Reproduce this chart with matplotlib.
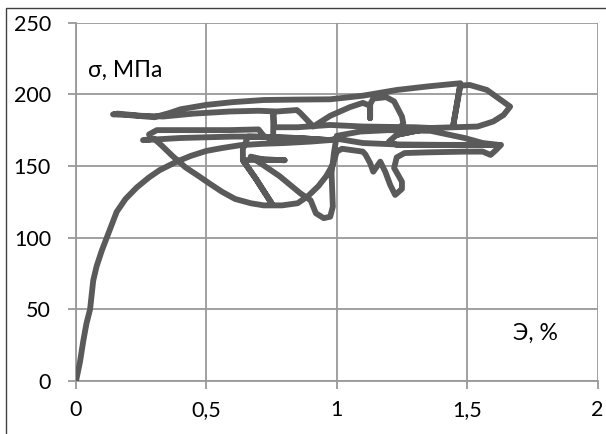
import matplotlib
matplotlib.use("Agg")
import matplotlib.pyplot as plt
from matplotlib.patches import Rectangle

# strain (%) and stress (MPa), in drawing order
strain = [
    # loading
    0, 0.015, 0.028, 0.04, 0.054, 0.066, 0.079, 0.099, 0.118, 0.135, 0.156, 0.19,
    0.233, 0.28, 0.32, 0.386, 0.44, 0.5, 0.56, 0.63, 0.72, 0.8, 0.9, 0.97, 1.0,
    # lower right loop
    1.1, 1.23, 1.4, 1.51, 1.63, 1.61, 1.59, 1.56, 1.49, 1.35, 1.26,
    # dip
    1.23, 1.22, 1.25, 1.25, 1.224, 1.205, 1.186, 1.167, 1.14, 1.128, 1.11, 1.1, 1.02,
    # sag loop
    1.0, 0.985, 0.96, 0.93, 0.89, 0.85, 0.79, 0.72, 0.67, 0.61, 0.56, 0.51, 0.47,
    0.42, 0.37, 0.33, 0.3,
    # left stub and line at 170
    0.257, 0.4, 0.6, 0.69, 0.85, 0.975, 0.85, 0.66, 0.64,
    # diagonals and deep loop
    0.64, 0.69, 0.75, 0.69, 0.64, 0.72, 0.8, 0.72, 0.67, 0.78, 0.86, 0.9, 0.92,
    0.95, 0.975, 0.985, 0.98, 0.99, 1.0,
    # line at 175 to the right
    1.09, 1.2, 1.36, 1.49, 1.56, 1.62,
    1.55, 1.4, 1.23, 1.2,
    # hump
    1.23, 1.255, 1.25, 1.22, 1.19, 1.14, 1.128, 1.128, 1.128, 1.1, 1.05, 0.975, 0.91,
    # box and line at 188
    0.86, 0.847, 0.77, 0.7, 0.59, 0.45, 0.335, 0.25, 0.16, 0.142, 0.2, 0.3,
    # top line up to the peak
    0.36, 0.4, 0.5, 0.6, 0.72, 0.85, 0.975, 1.1, 1.23, 1.35, 1.474,
    1.447, 1.474,
    # right D loop
    1.51, 1.576, 1.63, 1.665, 1.64, 1.6, 1.54, 1.45,
    # line at 177 to the left
    1.36, 1.23, 1.36, 1.3, 1.1, 0.975, 0.85, 0.76, 0.757, 0.756,
    # line at 175 to the left
    0.72, 0.7, 0.59, 0.45, 0.31, 0.28,
]
stress = [
    0, 13, 28, 40, 50, 70, 80, 91, 100, 108, 118, 127,
    135, 142, 147, 153, 157, 160.5, 162.5, 164.5, 165.5, 166, 167, 168, 169,
    166, 165, 164.7, 164.7, 164.7, 161, 157.7, 160, 160, 159.5, 159,
    156, 148.6, 139, 134, 129.8, 136.8, 146, 153, 146, 152, 158, 160, 162,
    160, 151, 143, 136, 129, 124, 122.5, 122.5, 124, 127, 132, 138, 143,
    149, 157, 164, 169,
    168, 169.5, 170.5, 170.5, 169.5, 168, 169.5, 170.5, 162,
    154, 141, 124, 141, 154, 154.5, 154, 154.5, 156.5, 143, 131, 126, 117,
    113.6, 114.6, 121.6, 145, 160, 171,
    174, 175, 174.5, 169.5, 166, 164.7,
    164.5, 164.7, 164.7, 167,
    171.7, 180, 184.5, 195, 198, 197, 193, 183.3, 192, 194, 191, 185, 177.5,
    187, 189, 188, 188.5, 188, 186.5, 184.5, 185, 186.5, 186, 185.5, 184,
    187, 189.5, 192.6, 194.5, 196, 196.3, 196.5, 199, 203, 205.5, 207.7,
    178.6, 206,
    206.5, 203, 196, 191.4, 185.6, 181, 177.5, 177,
    176.5, 171.7, 176.5, 177, 177.5, 178.6, 177, 177, 186, 168,
    171, 175.5, 175, 175, 175, 172,
]

x_ticks = [0, 0.5, 1, 1.5, 2]
x_tick_labels = ["0", "0,5", "1", "1,5", "2"]
y_ticks = [0, 50, 100, 150, 200, 250]

plt.rcParams["font.family"] = ["Lato", "DejaVu Sans"]

fig = plt.figure(figsize=(6.06, 4.34), dpi=100)
ax = fig.add_axes([76 / 606, 1 - 381 / 434, (597.5 - 76) / 606, (381 - 22.6) / 434])

grid_color = "#999999"

ax.plot(strain, stress, color="#5a5a5a", linewidth=4.2,
        solid_joinstyle="round", solid_capstyle="round", zorder=3)

ax.set_xlim(0, 2)
ax.set_ylim(0, 250)
ax.set_xticks(x_ticks)
ax.set_xticklabels(x_tick_labels)
ax.set_yticks(y_ticks)

ax.grid(True, color=grid_color, linewidth=1.3)
ax.set_axisbelow(True)
for side in ["top", "right"]:
    ax.spines[side].set_visible(False)
for side in ["left", "bottom"]:
    ax.spines[side].set_color(grid_color)
    ax.spines[side].set_linewidth(1.3)

ax.tick_params(axis="both", direction="out", length=6, width=1.3,
               color=grid_color, labelsize=15.5, labelcolor="black")
ax.tick_params(axis="y", pad=12)
ax.tick_params(axis="x", pad=8)

fig.text(88 / 606, 1 - 70 / 434, "σ, МПа", fontsize=16.5, va="center", ha="left")
fig.text(513 / 606, 1 - 333 / 434, "Э, %", fontsize=16.5, va="center", ha="left")

# chart area border
fig.patches.append(Rectangle((6 / 606, -0.1), 1.2, 1 - 8 / 434 + 0.1,
                             transform=fig.transFigure, fill=False,
                             edgecolor="#3f3f3f", linewidth=1))

fig.savefig("out.png", dpi=100)
